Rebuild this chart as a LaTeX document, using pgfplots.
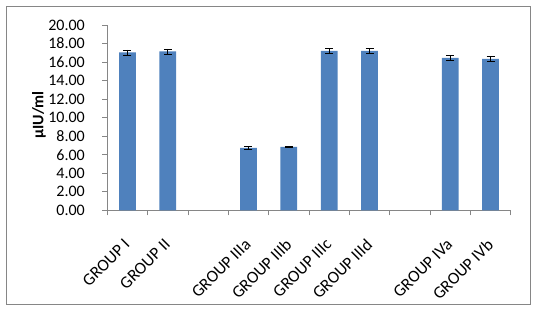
\documentclass[border=0pt]{standalone}
\usepackage{pgfplots}
\pgfplotsset{compat=1.18}
\usepackage{fontspec}
\setmainfont{Carlito}
\definecolor{barblue}{HTML}{4F81BD}
\definecolor{axgray}{HTML}{868686}
\begin{document}
\begin{tikzpicture}[x=1pt,y=1pt]
\path[use as bounding box] (-107.3,-98.7) rectangle (430.7,210.3);
\draw[axgray, line width=1pt] (-100.8,-93.7) rectangle (423.4,204);
\begin{axis}[
  at={(0,0)}, anchor=south west,
  scale only axis, width=403.4pt, height=185.3pt,
  xmin=-0.5, xmax=9.5, ymin=0, ymax=20,
  axis x line*=bottom, axis y line*=left,
  axis line style={axgray, line width=0.8pt, -},
  tick align=outside, major tick length=5pt,
  tick style={axgray, line width=0.8pt},
  font=\fontsize{16}{19}\selectfont,
  ytick={0,2,...,20},
  yticklabel style={/pgf/number format/fixed, /pgf/number format/fixed zerofill, /pgf/number format/precision=2, /pgf/number format/assume math mode=true, anchor=east, inner sep=0pt, xshift=-17.3pt},
  xtick={-0.5,0.5,...,9.5},
  xticklabels={},
  extra x ticks={0,1,3,4,5,6,8,9},
  extra x tick labels={GROUP I,GROUP II,GROUP IIIa,GROUP IIIb,GROUP IIIc,GROUP IIId,GROUP IVa,GROUP IVb},
  extra x tick style={major tick length=0pt},
  xticklabel style={font=\fontsize{17}{20}\selectfont, rotate=45, anchor=north east, inner sep=0pt, xshift=-22.3pt, yshift=-15.9pt},
  ylabel={\fontsize{16}{19}\selectfont\textbf{µIU/ml}},
  ylabel style={at={(axis description cs:-0.169,0.515)}, anchor=center},
  clip=false,
]
\addplot[ybar, bar width=16.7pt, fill=barblue, draw=none,
  error bars/.cd, y dir=both, y explicit,
  error bar style={black, line width=0.8pt},
  error mark options={black, line width=0.8pt, mark size=4pt, rotate=90}]
coordinates {
(0,17.04) +- (0,0.27)
(1,17.15) +- (0,0.27)
(3,6.73) +- (0,0.12)
(4,6.84) +- (0,0.10)
(5,17.20) +- (0,0.27)
(6,17.20) +- (0,0.27)
(8,16.46) +- (0,0.27)
(9,16.35) +- (0,0.27)
};
\end{axis}
\end{tikzpicture}
\end{document}
